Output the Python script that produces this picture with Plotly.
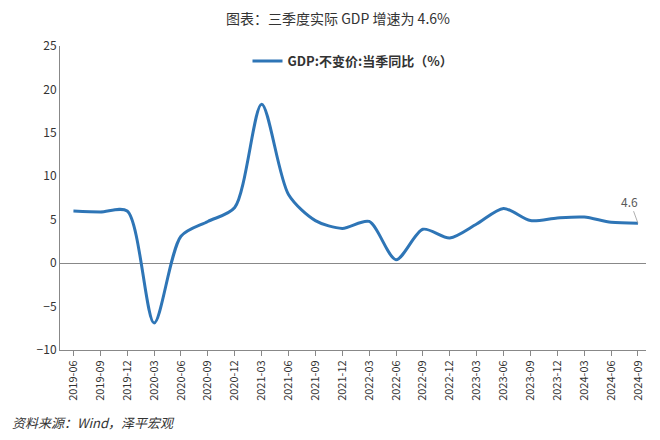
import plotly.graph_objects as go

quarters = ["2019-06","2019-09","2019-12","2020-03","2020-06","2020-09","2020-12",
            "2021-03","2021-06","2021-09","2021-12","2022-03","2022-06","2022-09",
            "2022-12","2023-03","2023-06","2023-09","2023-12","2024-03","2024-06","2024-09"]
gdp = [6.0, 5.9, 6.0, -6.9, 3.1, 4.8, 6.4, 18.3, 7.9, 4.9, 4.0, 4.8, 0.4, 3.9,
       2.9, 4.5, 6.3, 4.9, 5.2, 5.3, 4.7, 4.6]

font = "Noto Sans CJK SC"
fig = go.Figure()
fig.add_trace(go.Scatter(x=quarters, y=gdp, mode="lines",
                         line=dict(color="#2E75B6", width=3, shape="spline", smoothing=0.8),
                         name="<b>GDP:不变价:当季同比（%）</b>"))
fig.add_annotation(x=quarters[-1], y=gdp[-1], text="4.6", showarrow=True, arrowhead=0,
                   arrowwidth=0.8, arrowcolor="#999999", ax=-8, ay=-22,
                   font=dict(size=12, color="#595959", family=font))
fig.update_layout(
    width=660, height=440, paper_bgcolor="white", plot_bgcolor="white",
    margin=dict(l=52, r=22, t=38, b=98, autoexpand=False),
    font=dict(family=font, color="#333333", size=12),
    title=dict(text="图表：三季度实际 GDP 增速为 4.6%", x=0.5, y=0.985, xanchor="center",
               font=dict(size=14, color="#333333")),
    legend=dict(x=0.5, y=1.0, xanchor="center", yanchor="top", bgcolor="rgba(0,0,0,0)",
                font=dict(size=13, color="#333333", family=font)),
    showlegend=True,
    xaxis=dict(type="category", tickangle=-90, showline=True, linecolor="#888888",
               ticks="outside", ticklen=5, tickcolor="#888888", showgrid=False,
               tickfont=dict(size=11), range=[-0.5, 21.3], automargin=False),
    yaxis=dict(range=[-10, 25], dtick=5, showline=True, linecolor="#888888",
               showgrid=False, zeroline=True, zerolinecolor="#888888", zerolinewidth=1,
               ticks="", tickfont=dict(size=12), automargin=False),
)
fig.add_annotation(xref="paper", yref="paper", x=-0.085, y=-0.2, xanchor="left", yanchor="top",
                   text="<i>资料来源：Wind，泽平宏观</i>", showarrow=False,
                   font=dict(size=13, color="#333333", family=font))
fig.write_html("out.html")
